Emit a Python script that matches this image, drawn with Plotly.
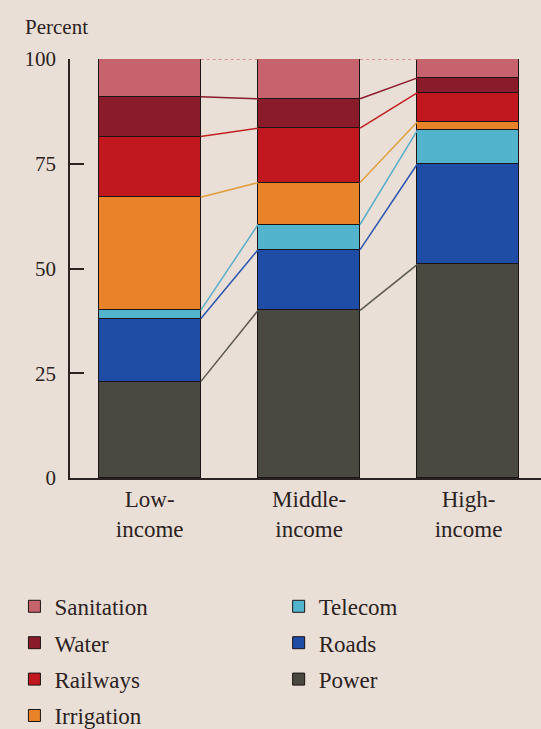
import numpy as np
import plotly.graph_objects as go

# ---------------- data ----------------
categories = ["Low-<br>income", "Middle-<br>income", "High-<br>income"]
sectors = ["Power", "Roads", "Telecom", "Irrigation", "Railways", "Water", "Sanitation"]
power = [23, 40, 51]
roads = [15, 14.5, 24]
telecom = [2, 6, 8]
irrigation = [27, 10, 2]
railways = [14.5, 13, 7]
water = [9.5, 7, 3.5]
sanitation = [9, 9.5, 4.5]
y_ticks = [0, 25, 50, 75, 100]

values = {
    "Power": power, "Roads": roads, "Telecom": telecom, "Irrigation": irrigation,
    "Railways": railways, "Water": water, "Sanitation": sanitation,
}

# ---------------- style ----------------
fill = {
    "Power": "#4a4940", "Roads": "#1f4ca5", "Telecom": "#52b4cc",
    "Irrigation": "#e8832a", "Railways": "#c0181e", "Water": "#8a1b2b",
    "Sanitation": "#c6636c",
}
conn = {
    "Power": "#5a5850", "Roads": "#2a55b0", "Telecom": "#5aaec8",
    "Irrigation": "#e0a040", "Railways": "#c02020", "Water": "#8a1b2b",
    "Sanitation": "#d07a80",
}
legend_of = {
    "Sanitation": "legend", "Water": "legend", "Railways": "legend", "Irrigation": "legend",
    "Telecom": "legend2", "Roads": "legend2", "Power": "legend2",
}
legend_rank = {
    "Sanitation": 1, "Water": 2, "Railways": 3, "Irrigation": 4,
    "Telecom": 1, "Roads": 2, "Power": 3,
}
bg = "#eadfd6"
ink = "#2b2222"
font_family = "Liberation Serif, DejaVu Serif, serif"
bar_w = 0.64

x = np.arange(len(categories))
fig = go.Figure()

for s in sectors:
    fig.add_trace(go.Bar(
        x=x, y=values[s], name=s, width=bar_w,
        marker=dict(color=fill[s], line=dict(color="#1a1414", width=1)),
        legend=legend_of[s], legendgroup=s, legendrank=legend_rank[s],
    ))

# connector lines between bars at cumulative boundaries
cum = np.cumsum(np.array([values[s] for s in sectors], dtype=float), axis=0)
for k, s in enumerate(sectors):
    xs, ys = [], []
    for i in range(len(categories) - 1):
        xs += [x[i] + bar_w / 2, x[i + 1] - bar_w / 2, None]
        ys += [cum[k, i], cum[k, i + 1], None]
    fig.add_trace(go.Scatter(
        x=xs, y=ys, mode="lines", showlegend=False, hoverinfo="skip",
        line=dict(color=conn[s], width=1.5, dash="dot" if s == "Sanitation" else "solid"),
    ))

legend_common = dict(
    font=dict(family=font_family, size=23, color=ink),
    bgcolor="rgba(0,0,0,0)", traceorder="grouped", tracegroupgap=3.5,
    xanchor="left", yanchor="top", orientation="v",
)

fig.update_layout(
    width=541, height=729,
    paper_bgcolor=bg, plot_bgcolor=bg,
    margin=dict(l=70, r=0, t=59, b=251, autoexpand=False),
    barmode="stack", bargap=0,
    font=dict(family=font_family, size=21, color=ink),
    showlegend=True,
    legend=dict(x=-0.118, y=-0.255, **legend_common),
    legend2=dict(x=0.443, y=-0.255, **legend_common),
    xaxis=dict(
        range=[-0.5, 2.455], tickvals=list(x), ticktext=categories,
        showline=True, linecolor=ink, linewidth=1.5, ticks="",
        showgrid=False, zeroline=False, fixedrange=True,
        tickfont=dict(family=font_family, size=23, color=ink),
    ),
    yaxis=dict(
        range=[0, 100], tickvals=y_ticks, showline=True, linecolor=ink, linewidth=1.5,
        ticks="inside", ticklen=14, tickwidth=1.5, tickcolor=ink,
        ticklabelstandoff=8, showgrid=False, zeroline=False, fixedrange=True,
        tickfont=dict(family=font_family, size=21, color=ink),
    ),
    annotations=[dict(
        text="Percent", xref="paper", yref="paper", x=-0.099, y=1.0, yshift=18,
        xanchor="left", yanchor="bottom", showarrow=False,
        font=dict(family=font_family, size=21, color=ink),
    )],
)

fig.write_html(
    "out.html",
    config={"displayModeBar": False},
    post_script="document.body.style.margin='0px';",
)
